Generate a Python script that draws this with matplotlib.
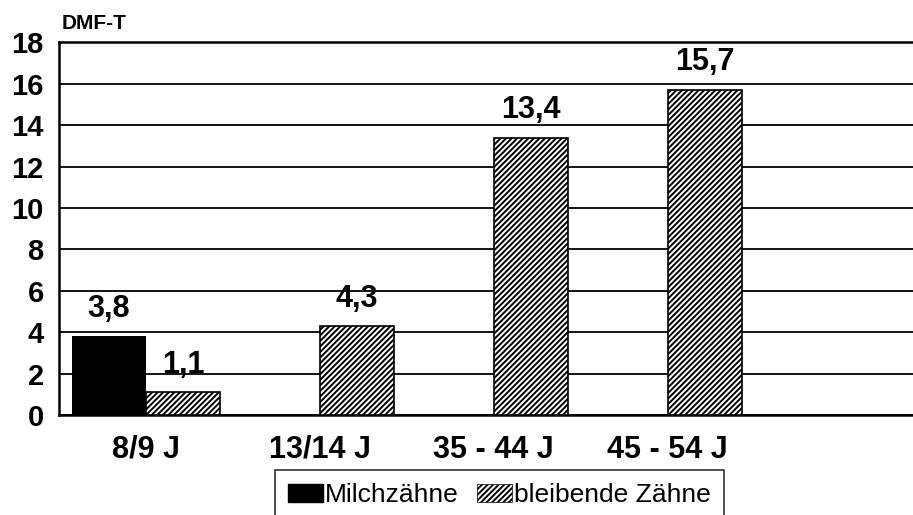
import numpy as np
import matplotlib
matplotlib.use("Agg")
import matplotlib.pyplot as plt
from matplotlib.patches import Patch

# Data
groups = ['8/9 J', '13/14 J', '35 - 44 J', '45 - 54 J']
milch = [3.8, None, None, None]
bleibend = [1.1, 4.3, 13.4, 15.7]
yticks = list(range(0, 20, 2))

plt.rcParams['font.family'] = ['Liberation Sans', 'DejaVu Sans']
plt.rcParams['hatch.linewidth'] = 1.4

fig = plt.figure(figsize=(9.13, 5.15), dpi=100)
ax = fig.add_axes([0.0646, 0.194, 0.9354, 0.724])

x = np.arange(len(groups))
w = 0.425

for i, v in enumerate(milch):
    if v is None:
        continue
    ax.bar(x[i] - w / 2, v, w, color='black', edgecolor='none', zorder=3)
    ax.annotate(f"{v:.1f}".replace('.', ','), (x[i] - w / 2, v),
                xytext=(0, 9), textcoords='offset points', ha='center', va='bottom',
                fontsize=22, fontweight='bold', zorder=5)

for i, v in enumerate(bleibend):
    ax.bar(x[i] + w / 2, v, w, color='white', edgecolor='black', hatch='//////',
           linewidth=1.2, zorder=3)
    ax.annotate(f"{v:.1f}".replace('.', ','), (x[i] + w / 2, v),
                xytext=(0, 9), textcoords='offset points', ha='center', va='bottom',
                fontsize=22, fontweight='bold', zorder=5)

ax.set_xlim(-0.5, 4.41)
ax.set_ylim(0, 18)
ax.set_yticks(yticks)
ax.set_yticklabels([str(t) for t in yticks], fontsize=21, fontweight='bold')
ax.set_xticks(x)
ax.set_xticklabels(groups, fontsize=22, fontweight='bold')
ax.tick_params(axis='both', length=0)
ax.tick_params(axis='y', pad=11)
ax.tick_params(axis='x', pad=14)
ax.yaxis.grid(True, color='black', linewidth=1.3, zorder=0)
ax.set_axisbelow(True)
for s in ['left', 'top', 'bottom']:
    ax.spines[s].set_linewidth(1.8)
ax.spines['right'].set_visible(False)

fig.text(62 / 913, 1 - 14 / 515, 'DMF-T', fontsize=15, fontweight='bold', va='top', ha='left')

handles = [Patch(facecolor='black', edgecolor='black'),
           Patch(facecolor='white', edgecolor='black', hatch='//////', linewidth=0.5)]
leg = fig.legend(handles, ['Milchzähne', 'bleibende Zähne'], loc='upper left',
                 bbox_to_anchor=(275 / 913, 1 - 470 / 515), ncol=2, fontsize=19,
                 frameon=True, fancybox=False, handlelength=1.3, handleheight=0.7,
                 handletextpad=0.1, columnspacing=0.7, borderpad=0.5, borderaxespad=0)
leg.get_frame().set_edgecolor('black')
leg.get_frame().set_linewidth(1.2)

fig.savefig('out.png', dpi=100)
